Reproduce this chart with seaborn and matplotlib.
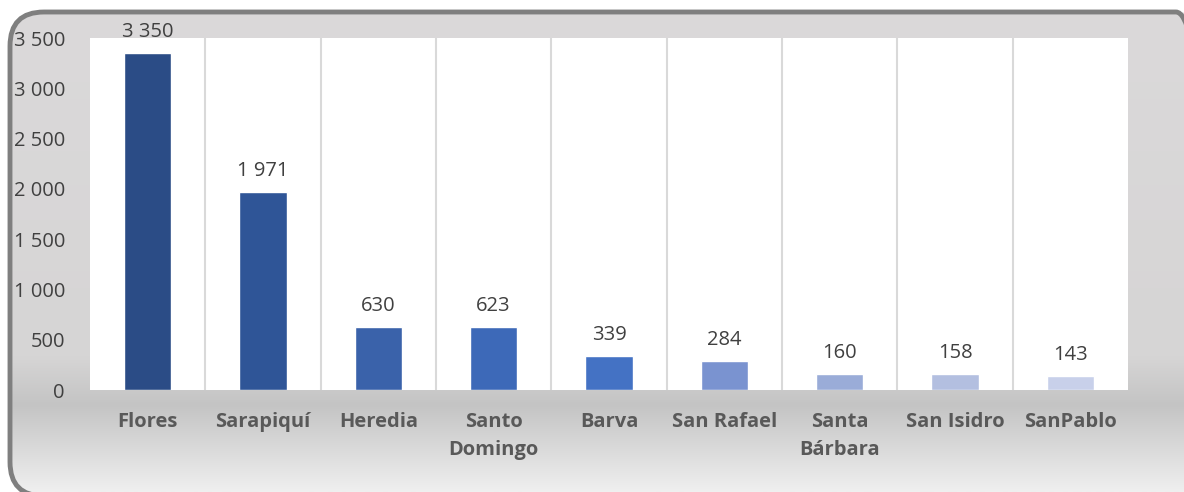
import numpy as np
import pandas as pd
import seaborn as sns
import matplotlib.pyplot as plt
from matplotlib.patches import FancyBboxPatch
from matplotlib.colors import LinearSegmentedColormap

# data
cantones = ["Flores", "Sarapiquí", "Heredia", "Santo\nDomingo", "Barva",
            "San Rafael", "Santa\nBárbara", "San Isidro", "SanPablo"]
valores = [3350, 1971, 630, 623, 339, 284, 160, 158, 143]
colores = ["#2B4C86", "#2F5597", "#3A62AA", "#3D69B8", "#4472C4",
           "#7A93D0", "#9AACD8", "#B3BFE0", "#C8D0EA"]

df = pd.DataFrame({"canton": cantones, "valor": valores})

sns.set_theme(style="white")
plt.rcParams['font.family'] = ['Open Sans', 'DejaVu Sans']

fig = plt.figure(figsize=(11.84, 4.92), dpi=100)

# background with rounded frame and vertical gradient (pixel coords, y up)
bg = fig.add_axes([0, 0, 1, 1], zorder=0)
bg.set_xlim(0, 1184)
bg.set_ylim(0, 492)
bg.axis("off")
grad_cmap = LinearSegmentedColormap.from_list(
    "g", [(0, "#dbd9da"), (0.72, "#d6d5d5"), (0.82, "#c4c4c4"), (1.0, "#efefef")])
grad = np.linspace(0, 1, 256).reshape(-1, 1)
frame = FancyBboxPatch((10, -4), 1200, 484, boxstyle="round,pad=0,rounding_size=34",
                       facecolor="none", edgecolor="#7f7f7f", linewidth=3.5, zorder=2)
bg.add_patch(frame)
im = bg.imshow(grad, cmap=grad_cmap, extent=[0, 1184, 0, 480], aspect="auto",
               origin="upper", zorder=1)
im.set_clip_path(frame)

ax = fig.add_axes([90 / 1184, 102 / 492, 1038 / 1184, 352 / 492], zorder=1)
sns.barplot(data=df, x="canton", y="valor", hue="canton", palette=colores,
            legend=False, width=0.41, saturation=1, ax=ax)
ax.set_facecolor("white")
ax.set_ylim(0, 3500)
ax.set_xlim(-0.5, len(cantones) - 0.5)
ax.set_yticks(np.arange(0, 3501, 500))
ax.set_yticklabels([f"{v:,}".replace(",", " ") for v in range(0, 3501, 500)],
                   fontsize=14.5, color="#404040")
ax.tick_params(axis="y", pad=18, length=0)
ax.tick_params(axis="x", pad=16, length=0)
for lbl in ax.get_xticklabels():
    lbl.set_fontsize(14.5)
    lbl.set_fontweight("bold")
    lbl.set_color("#595959")
    lbl.set_linespacing(1.55)
ax.set_xlabel("")
ax.set_ylabel("")

# vertical separators between categories
for xb in np.arange(0.5, len(cantones) - 1, 1):
    ax.axvline(xb, color="#d9d9d9", linewidth=1.5, zorder=0)

for s in ax.spines.values():
    s.set_visible(False)

# data labels
for i, v in enumerate(valores):
    ax.annotate(f"{v:,}".replace(",", " "), (i, v), xytext=(0, 8),
                textcoords="offset points", ha="center", va="bottom",
                fontsize=14.5, color="#404040", annotation_clip=False)

fig.savefig("out.png", dpi=100)
